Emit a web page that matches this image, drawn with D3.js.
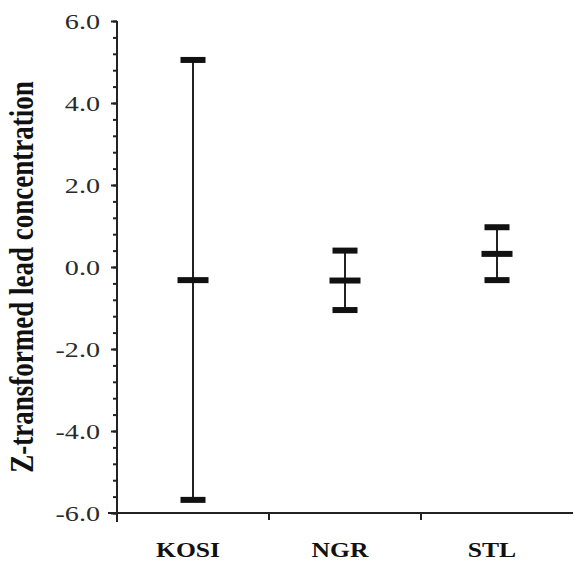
<!DOCTYPE html>
<html lang="en">
<head>
  <meta charset="UTF-8">
  <title>Z-transformed lead concentration</title>
  <script src="https://d3js.org/d3.v7.min.js"></script>
  <style>
    body {
      margin: 0;
      background: #fff;
      font-family: "Liberation Serif", "Times New Roman", serif;
    }
    .axis path, .axis line {
      stroke: #222;
      stroke-width: 2px;
    }
  </style>
</head>
<body>
  <div id="chart"></div>

  <script>
    // data
    const sites = ["KOSI", "NGR", "STL"];
    const upper = [5.05, 0.40, 0.97];
    const mean  = [-0.32, -0.33, 0.32];
    const lower = [-5.68, -1.05, -0.32];
    const yTicks = [-6, -4, -2, 0, 2, 4, 6];
    const minorStep = 0.4;

    const margin = {top: 21, right: 1, bottom: 49, left: 117},
          width = 574 - margin.left - margin.right,
          height = 562 - margin.top - margin.bottom;

    // the original figure is stretched sideways, so text gets scaled too
    const stretch = 1.28;

    const svg = d3.select("#chart")
                  .append("svg")
                  .attr("width", width + margin.left + margin.right)
                  .attr("height", height + margin.top + margin.bottom)
                  .append("g")
                  .attr("transform", `translate(${margin.left},${margin.top})`);

    const data = sites.map((s, i) => ({site: s, hi: upper[i], mid: mean[i], lo: lower[i]}));

    const x = d3.scaleBand()
                .domain(sites)
                .range([0, width]);

    const y = d3.scaleLinear()
                .domain([-6, 6])
                .range([height, 0]);

    // minor ticks
    const minor = d3.range(0, Math.round(12 / minorStep) + 1).map(i => -6 + i * minorStep);
    svg.append("g")
       .attr("class", "axis")
       .call(d3.axisLeft(y).tickValues(minor).tickSize(4).tickFormat(""))
       .select(".domain").remove();

    // y axis (plain hyphen for the minus sign, as in the original)
    const fmt = d => d3.format(".1f")(d).replace("\u2212", "-");
    const yAxis = svg.append("g")
       .attr("class", "axis")
       .call(d3.axisLeft(y).tickValues(yTicks).tickSize(6).tickSizeOuter(0).tickFormat(fmt));

    yAxis.select(".domain").attr("d", `M0,0V${height + 9}`);
    yAxis.selectAll("text")
         .attr("x", 0)
         .attr("dy", "0.35em")
         .attr("transform", `translate(-17,0) scale(${stretch},1)`)
         .style("font-family", "'Liberation Serif', serif")
         .style("font-size", "22px")
         .style("fill", "#2a2a2a");

    // x axis
    const xAxis = svg.append("g")
       .attr("class", "axis")
       .attr("transform", `translate(0,${height})`)
       .call(d3.axisBottom(x).tickSize(0).tickFormat(""));

    xAxis.select(".domain").attr("d", `M-9,0H${width}`);

    svg.append("g")
       .selectAll("line")
       .data(sites.slice(1))
       .enter()
       .append("line")
       .attr("x1", d => x(d))
       .attr("x2", d => x(d))
       .attr("y1", height)
       .attr("y2", height + 7)
       .attr("stroke", "#222")
       .attr("stroke-width", 2);

    svg.selectAll(".site")
       .data(data)
       .enter()
       .append("text")
       .attr("class", "site")
       .attr("transform", d => `translate(${x(d.site) + x.bandwidth() / 2 - 5},${height + 44}) scale(${stretch},1)`)
       .attr("text-anchor", "middle")
       .style("font-size", "20px")
       .style("font-weight", "bold")
       .style("fill", "#111")
       .text(d => d.site);

    // y label
    svg.append("text")
       .attr("transform", `translate(${-margin.left + 33},${height / 2 + 10}) scale(${stretch},1) rotate(-90)`)
       .attr("text-anchor", "middle")
       .style("font-size", "27px")
       .style("font-weight", "bold")
       .style("fill", "#111")
       .text("Z-transformed lead concentration");

    // error bars
    const bars = svg.selectAll(".err")
       .data(data)
       .enter()
       .append("g")
       .attr("class", "err")
       .attr("transform", d => `translate(${x(d.site) + x.bandwidth() / 2},0)`);

    bars.append("line")
        .attr("y1", d => y(d.hi))
        .attr("y2", d => y(d.lo))
        .attr("stroke", "#222")
        .attr("stroke-width", 2);

    [["hi", 25], ["lo", 25], ["mid", 31]].forEach(([k, w]) => {
      bars.append("rect")
          .attr("x", -w / 2)
          .attr("y", d => y(d[k]) - 3)
          .attr("width", w)
          .attr("height", 6)
          .attr("fill", "#111");
    });
  </script>
</body>
</html>
